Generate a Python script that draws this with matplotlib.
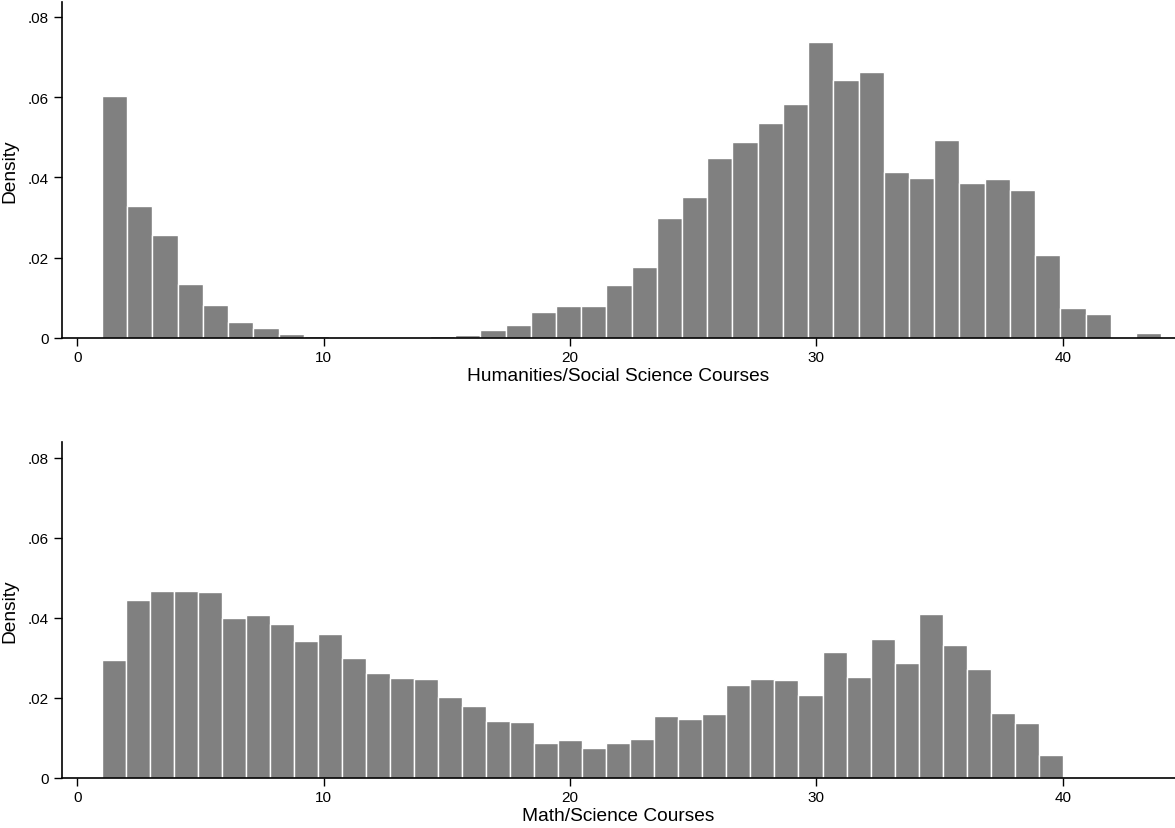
import numpy as np
import matplotlib
matplotlib.use("Agg")
import matplotlib.pyplot as plt

plt.rcParams['font.family'] = ['Liberation Sans', 'DejaVu Sans']

# ---- data (density per bin) ----
hum_range = (1, 44)
hum_density = [0.0602, 0.0329, 0.0256, 0.0134, 0.0082, 0.0039, 0.0025, 0.0011,
               0.0006, 0.0, 0.0, 0.0, 0.0003, 0.0005, 0.0008, 0.0019, 0.0032,
               0.0064, 0.0080, 0.0080, 0.0133, 0.0176, 0.0299, 0.0352, 0.0449,
               0.0488, 0.0535, 0.0583, 0.0737, 0.0643, 0.0663, 0.0413, 0.0398,
               0.0494, 0.0386, 0.0397, 0.0369, 0.0207, 0.0076, 0.0061, 0.0,
               0.0013]

math_range = (1, 40)
math_density = [0.0295, 0.0445, 0.0466, 0.0466, 0.0465, 0.0400, 0.0407, 0.0385,
                0.0341, 0.0360, 0.0300, 0.0263, 0.0249, 0.0248, 0.0203, 0.0179,
                0.0142, 0.0140, 0.0087, 0.0095, 0.0076, 0.0088, 0.0097, 0.0156,
                0.0148, 0.0159, 0.0233, 0.0248, 0.0244, 0.0208, 0.0314, 0.0252,
                0.0348, 0.0287, 0.0409, 0.0332, 0.0271, 0.0163, 0.0137, 0.0058]

x_ticks = [0, 10, 20, 30, 40]
y_ticks = [0, 0.02, 0.04, 0.06, 0.08]
y_ticklabels = ['0', '.02', '.04', '.06', '.08']
xlabels = ['Humanities/Social Science Courses', 'Math/Science Courses']

W, H = 1175, 829
fig = plt.figure(figsize=(W / 100, H / 100), dpi=100)

left = 61.7 / W
panels = [(339.0, 2.7), (779.0, 443.3)]  # (bottom px, top px)

for (bpx, tpx), rng, dens, xl in zip(panels, [hum_range, math_range],
                                      [hum_density, math_density], xlabels):
    ax = fig.add_axes([left, (H - bpx) / H, 1 - left, (bpx - tpx) / H])
    edges = np.linspace(rng[0], rng[1], len(dens) + 1)
    ax.bar(edges[:-1], dens, width=np.diff(edges), align='edge',
           color='#808080', edgecolor='white', linewidth=1.0)
    ax.set_xlim(-0.637, 44.56)
    ax.set_ylim(0, 0.0838)
    ax.set_xticks(x_ticks)
    ax.set_xticklabels([str(t) for t in x_ticks])
    ax.set_yticks(y_ticks)
    ax.set_yticklabels(y_ticklabels)
    for s in ['top', 'right']:
        ax.spines[s].set_visible(False)
    for s in ['left', 'bottom']:
        ax.spines[s].set_linewidth(1.2)
        ax.spines[s].set_color('#000000')
    ax.tick_params(axis='both', length=6, width=1.0, color='#000000',
                   labelsize=11, pad=3)
    ax.set_xlabel(xl, fontsize=13.8, labelpad=2)
    ax.set_ylabel('Density', fontsize=13.8, labelpad=7)

fig.savefig('out.png', dpi=100)
